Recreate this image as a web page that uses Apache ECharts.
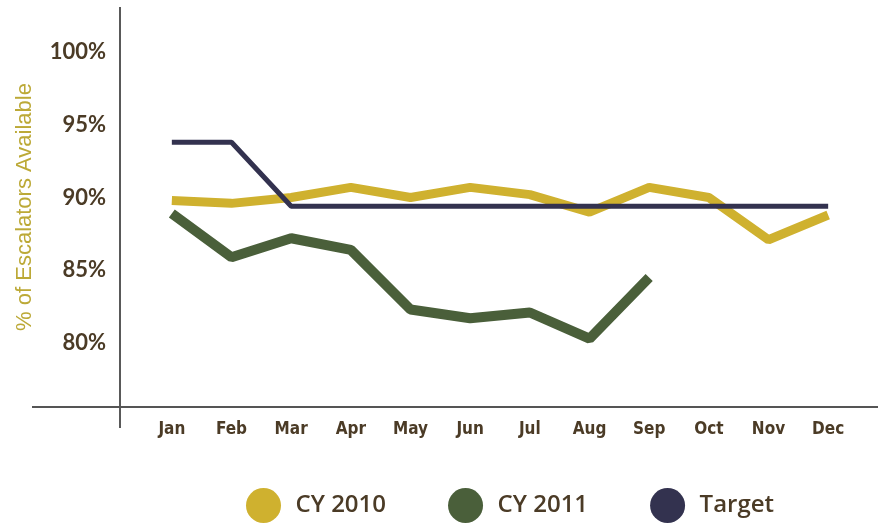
<!DOCTYPE html>
<html>
<head>
<meta charset="utf-8">
<script src="https://cdn.jsdelivr.net/npm/echarts@6/dist/echarts.min.js"></script>
<style>
  html, body { margin: 0; padding: 0; background: #fff; }
  #main { width: 878px; height: 523px; }
</style>
</head>
<body>
<div id="main"></div>
<script>
// months on the x axis
var months = ['Jan', 'Feb', 'Mar', 'Apr', 'May', 'Jun', 'Jul', 'Aug', 'Sep', 'Oct', 'Nov', 'Dec'];
// % of escalators available
var cy2010 = [89.8, 89.6, 90.0, 90.7, 90.0, 90.7, 90.2, 89.0, 90.7, 90.0, 87.1, 88.8];
var cy2011 = [88.9, 85.9, 87.2, 86.4, 82.3, 81.7, 82.1, 80.3, 84.5];
var target = [93.8, 93.8, 89.4, 89.4, 89.4, 89.4, 89.4, 89.4, 89.4, 89.4, 89.4, 89.4];
// y tick labels
var yTicks = [80, 85, 90, 95, 100];

var brown = '#4b3b26';

var option = {
    animation: false,
    grid: { left: 142, right: 20, top: 7, bottom: 116 },
    legend: {
        left: 241,
        top: 483,
        itemWidth: 38,
        itemHeight: 35,
        itemGap: 62,
        icon: 'circle',
        textStyle: {
            color: brown,
            fontSize: 24,
            fontWeight: 600,
            fontFamily: 'Open Sans',
            padding: [0, 0, 0, 8]
        },
        data: ['CY 2010', 'CY 2011', 'Target']
    },
    xAxis: {
        type: 'category',
        data: months,
        boundaryGap: true,
        axisLine: { show: false },
        axisTick: { show: false },
        axisLabel: {
            margin: 14,
            color: brown,
            fontSize: 17,
            fontWeight: 'bold',
            fontFamily: '"DejaVu Sans Condensed", sans-serif'
        }
    },
    yAxis: {
        type: 'value',
        min: 75.6,
        max: 103.1,
        name: '% of Escalators Available',
        nameLocation: 'middle',
        nameRotate: 90,
        nameGap: 106,
        nameTextStyle: {
            color: '#bca937',
            fontSize: 22,
            fontFamily: '"Liberation Sans", sans-serif'
        },
        axisLine: { show: false },
        axisTick: { show: false },
        splitLine: { show: false },
        axisLabel: {
            customValues: yTicks,
            margin: 36,
            color: brown,
            fontSize: 22,
            fontWeight: 'bold',
            fontFamily: 'Lato, sans-serif',
            formatter: '{value}%'
        }
    },
    graphic: [
        { type: 'line', shape: { x1: 120, y1: 7, x2: 120, y2: 428 }, style: { stroke: '#222', lineWidth: 1.5 } },
        { type: 'line', shape: { x1: 32, y1: 407, x2: 878, y2: 407 }, style: { stroke: '#555', lineWidth: 2 } }
    ],
    series: [
        {
            name: 'CY 2010', type: 'line', data: cy2010, symbol: 'none',
            itemStyle: { color: '#cfb12f' },
            lineStyle: { color: '#cfb12f', width: 9 }
        },
        {
            name: 'CY 2011', type: 'line', data: cy2011, symbol: 'none',
            itemStyle: { color: '#4a5f3a' },
            lineStyle: { color: '#4a5f3a', width: 10 }
        },
        {
            name: 'Target', type: 'line', data: target, symbol: 'none',
            itemStyle: { color: '#33324f' },
            lineStyle: { color: '#33324f', width: 5 }
        }
    ]
};

var chart = echarts.init(document.getElementById('main'));
chart.setOption(option);
</script>
</body>
</html>
